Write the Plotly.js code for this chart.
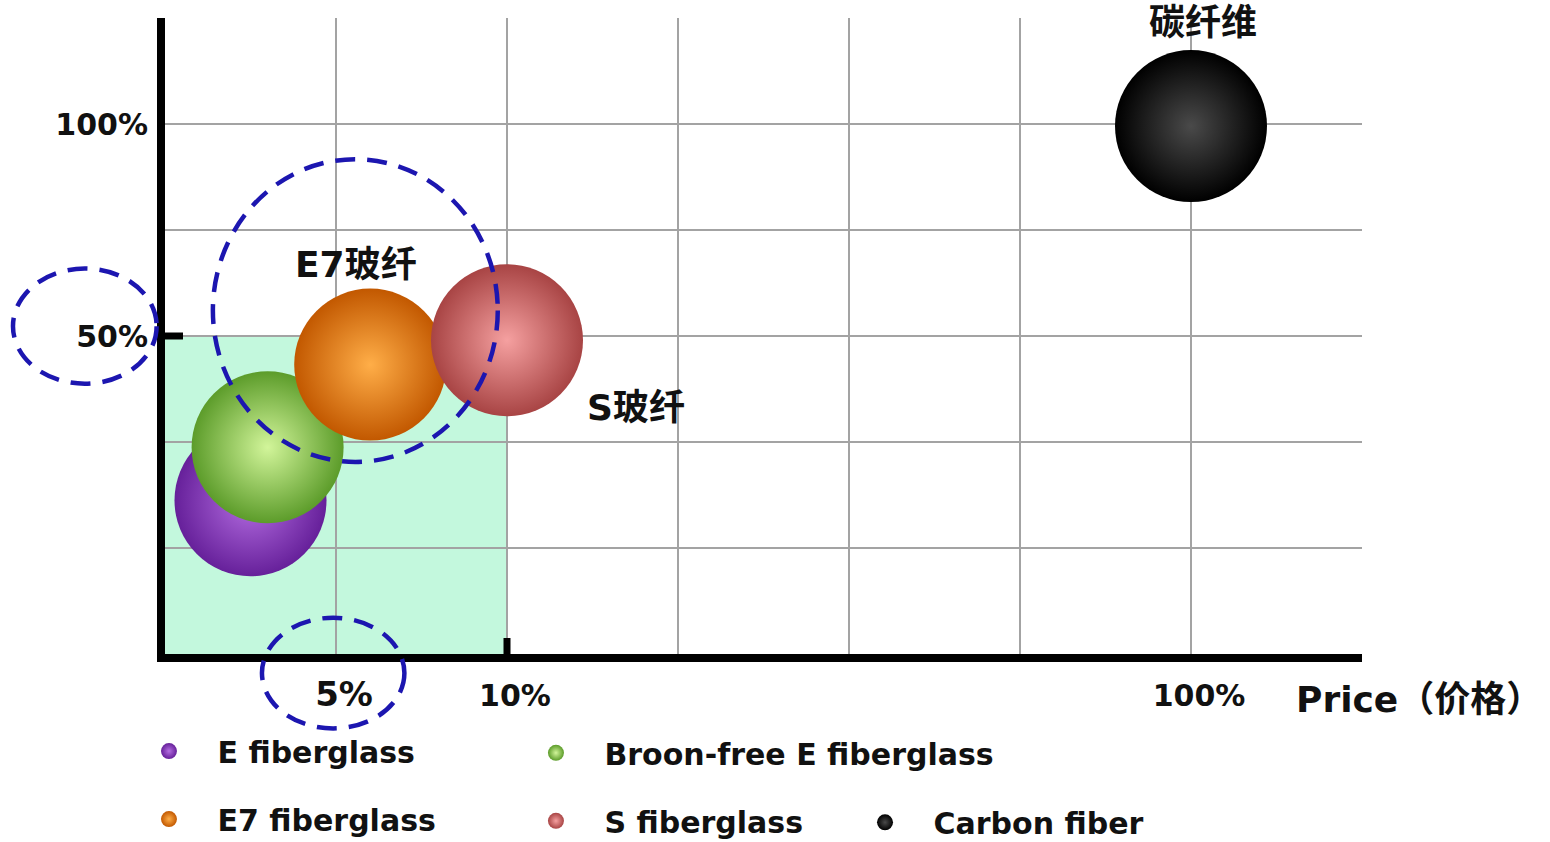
<!DOCTYPE html>
<html>
<head>
<meta charset="utf-8">
<script src="https://cdn.plot.ly/plotly-3.0.1.min.js"></script>
<style>html,body{margin:0;padding:0;background:#fff;}#chart{width:1550px;height:842px;}</style>
</head>
<body>
<div id="chart"></div>
<script>
// ---- data ----
const materials = ['E fiberglass', 'Broon-free E fiberglass', 'E7 fiberglass', 'S fiberglass', 'Carbon fiber'];
const priceX = [0.50, 0.60, 1.20, 2.00, 6.00];      // position on the price scale (tick units)
const perfY = [1.45, 1.95, 2.73, 2.96, 4.98];       // position on the performance scale (tick units)
const xTickVals = [1, 2, 6];
const xTickText = ['5%', '10%', '100%'];
const yTickVals = [3, 5];
const yTickText = ['50%', '100%'];
const pointLabels = ['', '', 'E7玻纤', 'S玻纤', '碳纤维'];
const xAxisLabel = 'Price（价格）';

// ---- styles ----
const edgeColors = ['#66209a', '#5c9c2a', '#c25800', '#a84444', '#000000'];
const centerColors = ['#b56ee2', '#d2f59a', '#ffae48', '#f5a0a0', '#4a4a4a'];
const legendOf = ['legend', 'legend2', 'legend', 'legend2', 'legend3'];
const labelShift = [[0, 0], [0, 0], [-14, 100], [129, -67], [12, 104]];

const traces = materials.map((name, i) => ({
  type: 'scatter', mode: 'markers', name: name,
  x: [priceX[i]], y: [perfY[i]],
  legend: legendOf[i], legendgroup: 'g' + i,
  marker: {
    size: 152, sizemode: 'diameter', color: edgeColors[i],
    line: {width: 0},
    gradient: {type: 'radial', color: centerColors[i]}
  },
  hoverinfo: 'name'
}));

const gridColor = '#a3a3a3';
const tickFont = {family: 'DejaVu Sans', size: 30, color: '#111', weight: 'bold'};
const xTickTextStyled = xTickText.map((t, i) => i === 0 ? '<span style="font-size:34px">' + t + '</span>' : t);

const blue = '#1c16b0';
const dashed = {color: blue, width: 4.5, dash: '20px,12px'};

const shapes = [
  {type: 'rect', xref: 'x', yref: 'y', x0: 0, x1: xTickVals[1], y0: 0, y1: yTickVals[0],
   fillcolor: '#c3f8dd', line: {width: 0}, layer: 'below'},
  // small axis stubs at 50% and 10%
  {type: 'line', xref: 'x', yref: 'y', xsizemode: 'pixel', xanchor: 0, x0: 0, x1: 18,
   y0: yTickVals[0], y1: yTickVals[0], line: {color: '#000', width: 7}},
  {type: 'line', xref: 'x', yref: 'y', ysizemode: 'pixel', yanchor: 0, y0: 0, y1: 16,
   x0: xTickVals[1], x1: xTickVals[1], line: {color: '#000', width: 7}},
  // dashed highlight circles
  {type: 'circle', xref: 'paper', yref: 'paper', x0: 0.040, x1: 0.278, y0: 0.302, y1: 0.778, line: dashed, layer: 'above'},
  {type: 'circle', xref: 'paper', yref: 'paper', x0: -0.127, x1: -0.007, y0: 0.425, y1: 0.606, line: dashed, layer: 'above'},
  {type: 'circle', xref: 'paper', yref: 'paper', x0: 0.081, x1: 0.200, y0: -0.117, y1: 0.057, line: dashed, layer: 'above'}
];

const annotations = [];
materials.forEach((m, i) => {
  if (!pointLabels[i]) return;
  annotations.push({
    x: priceX[i], y: perfY[i], xref: 'x', yref: 'y', showarrow: false,
    text: pointLabels[i], xshift: labelShift[i][0], yshift: labelShift[i][1],
    font: {family: 'DejaVu Sans, Noto Sans CJK SC', size: 36, color: '#111', weight: 'bold'}
  });
});
annotations.push({
  x: 0.943, y: -0.072, xref: 'paper', yref: 'paper', xanchor: 'left', yanchor: 'middle',
  showarrow: false, text: xAxisLabel,
  font: {family: 'DejaVu Sans, Noto Sans CJK SC', size: 36, color: '#111', weight: 'bold'}
});

const legendBase = {
  orientation: 'v', traceorder: 'grouped', tracegroupgap: 26, itemwidth: 87,
  bgcolor: 'rgba(0,0,0,0)', borderwidth: 0, xanchor: 'left', yanchor: 'top',
  font: {family: 'DejaVu Sans', size: 30, color: '#111', weight: 'bold'}
};

const layout = {
  width: 1550, height: 842,
  margin: {l: 165, r: 188, t: 18, b: 188, autoexpand: false},
  paper_bgcolor: '#fff', plot_bgcolor: 'rgba(0,0,0,0)',
  showlegend: true,
  xaxis: {
    range: [0, 7], tickvals: xTickVals, ticktext: xTickTextStyled,
    showgrid: true, gridcolor: gridColor, gridwidth: 1.5,
    minor: {tick0: 0, dtick: 1, showgrid: true, gridcolor: gridColor, gridwidth: 1.5, ticks: ''},
    showline: true, linecolor: '#000', linewidth: 8, zeroline: false, ticks: '',
    tickfont: tickFont, ticklabelstandoff: 8, ticklabelshift: 8, fixedrange: true
  },
  yaxis: {
    range: [0, 6], tickvals: yTickVals, ticktext: yTickText,
    showgrid: true, gridcolor: gridColor, gridwidth: 1.5,
    minor: {tick0: 0, dtick: 1, showgrid: true, gridcolor: gridColor, gridwidth: 1.5, ticks: ''},
    showline: true, linecolor: '#000', linewidth: 8, zeroline: false, ticks: '',
    tickfont: tickFont, ticklabelstandoff: 3, fixedrange: true
  },
  legend: Object.assign({}, legendBase, {x: -0.0372, y: -0.1117}),
  legend2: Object.assign({}, legendBase, {x: 0.2861, y: -0.1145}),
  legend3: Object.assign({}, legendBase, {x: 0.561, y: -0.2238}),
  shapes: shapes,
  annotations: annotations
};

Plotly.newPlot('chart', traces, layout, {displayModeBar: false, staticPlot: true});
</script>
</body>
</html>
